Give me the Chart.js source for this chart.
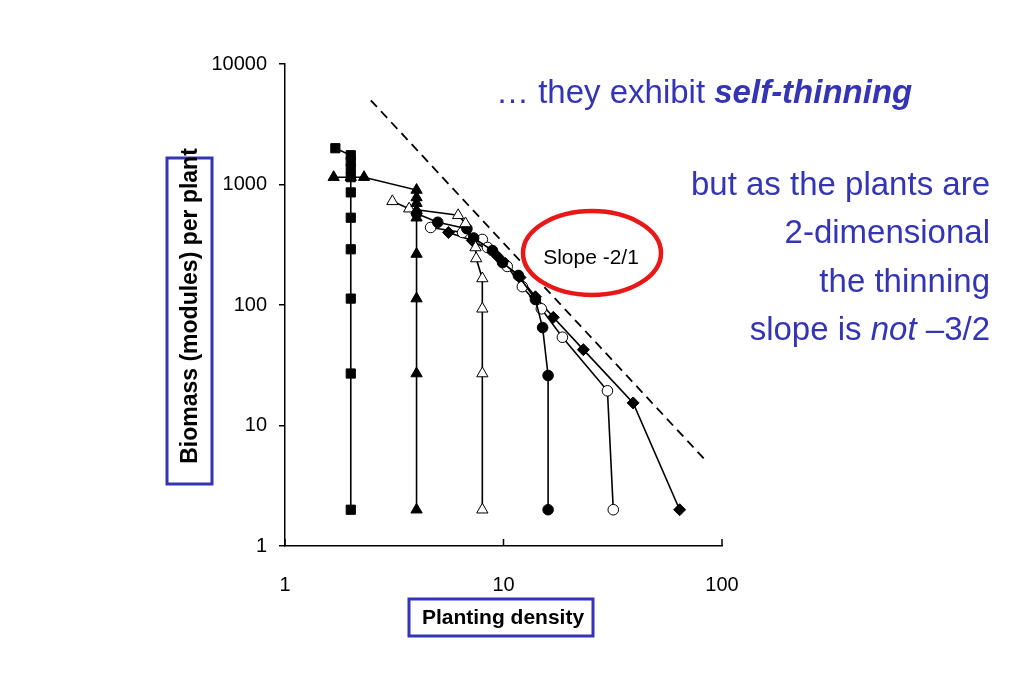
<!DOCTYPE html>
<html>
<head>
<meta charset="utf-8">
<script src="https://cdn.jsdelivr.net/npm/chart.js@4.4.1/dist/chart.umd.min.js"></script>
<style>
  html, body { margin: 0; padding: 0; background: #fff; }
</style>
</head>
<body>
<canvas id="myChart" width="1023" height="682"></canvas>
<script>
// tick labels
let xTicks = [1, 10, 100]
let yTicks = [1, 10, 100, 1000, 10000]

// filled squares
let sqX = [1.7, 2, 2, 2, 2, 2, 2, 2, 2, 2, 2]
let sqY = [2000, 1750, 1550, 1350, 1150, 860, 530, 290, 113, 27, 2]

// filled triangles
let triX = [1.67, 2, 2.3, 4, 4, 4, 4, 4, 4, 4, 4, 4]
let triY = [1150, 1150, 1150, 900, 780, 700, 610, 530, 265, 113, 27, 2]

// open triangles
let oTriX = [3.1, 3.7, 6.2, 6.7, 7.45, 7.5, 8, 8, 8, 8]
let oTriY = [725, 630, 555, 475, 300, 243, 166, 93, 27, 2]

// filled circles
let dotX = [4, 5, 6.8, 7.3, 8.9, 9.9, 11.7, 14, 15.1, 16, 16]
let dotY = [575, 486, 430, 360, 283, 225, 176, 111, 65, 26, 2]

// open circles
let oDotX = [4.64, 6.5, 8.0, 8.45, 10.4, 12.2, 14.9, 18.6, 29.9, 31.8]
let oDotY = [440, 400, 350, 300, 209, 142, 93, 54, 19.4, 2]

// filled diamonds
let diaX = [5.6, 7.2, 9.4, 10.2, 11.9, 14.0, 16.9, 23.2, 39.2, 64]
let diaY = [400, 343, 253, 221, 169, 117, 79, 42.6, 15.4, 2]

// slope -2 guide line
let guideX = [2.47, 82.7]
let guideY = [5000, 5.3]

let blue = '#3434b6'
let fam = '"Liberation Sans", Arial, sans-serif'

function pts(xs, ys) {
    return xs.map((x, i) => ({ x: x, y: ys[i] }))
}

function series(xs, ys, style, fill, r) {
    return {
        data: pts(xs, ys),
        showLine: true,
        borderColor: '#000',
        borderWidth: 1.6,
        pointStyle: style,
        pointRadius: r,
        pointBackgroundColor: fill,
        pointBorderColor: '#000',
        pointBorderWidth: 1,
        tension: 0
    }
}

let extras = {
    id: 'extras',
    afterDraw(chart) {
        let c = chart.ctx
        let xs = chart.scales.x
        let ys = chart.scales.y
        c.save()

        // small upward ticks on the x axis
        c.strokeStyle = '#000'
        c.lineWidth = 1.5
        xTicks.forEach(v => {
            let px = xs.getPixelForValue(v)
            c.beginPath()
            c.moveTo(px, ys.bottom)
            c.lineTo(px, ys.bottom - 7)
            c.stroke()
        })

        // axis title boxes
        c.strokeStyle = blue
        c.lineWidth = 3
        c.strokeRect(167, 158, 45, 326)
        c.strokeRect(409, 599, 184, 37)

        c.fillStyle = '#000'
        c.textAlign = 'center'
        c.textBaseline = 'middle'
        c.font = 'bold 21px ' + fam
        c.fillText('Planting density', 503, 618)

        c.save()
        c.translate(191, 306)
        c.rotate(-Math.PI / 2)
        c.font = 'bold 23px ' + fam
        c.fillText('Biomass (modules) per plant', 0, 0)
        c.restore()

        // red ellipse with label
        c.strokeStyle = '#e81818'
        c.lineWidth = 4.5
        c.beginPath()
        c.ellipse(592, 253, 69, 42, 0, 0, Math.PI * 2)
        c.stroke()
        c.fillStyle = '#000'
        c.font = '21px ' + fam
        c.fillText('Slope -2/1', 591, 258)

        // slide text
        c.fillStyle = blue
        c.textBaseline = 'alphabetic'
        c.textAlign = 'left'
        let f = '33px ' + fam
        c.font = f
        let t1 = '\u2026 they exhibit '
        c.fillText(t1, 496, 103)
        let w1 = c.measureText(t1).width
        c.font = 'italic bold 33px ' + fam
        c.fillText('self-thinning', 496 + w1, 103)

        c.textAlign = 'right'
        c.font = f
        c.fillText('but as the plants are', 990, 195)
        c.fillText('2-dimensional', 990, 243)
        c.fillText('the thinning', 990, 292)
        let tail = ' \u20133/2'
        let wt = c.measureText(tail).width
        c.fillText(tail, 990, 340)
        c.font = 'italic 33px ' + fam
        let wn = c.measureText('not').width
        c.fillText('not', 990 - wt, 340)
        c.font = f
        c.fillText('slope is ', 990 - wt - wn, 340)

        c.restore()
    }
}

let ctx = document.getElementById('myChart').getContext('2d')

let myChart = new Chart(ctx, {
    type: 'scatter',
    data: {
        datasets: [
            series(sqX, sqY, 'rect', '#000', 6.5),
            series(triX, triY, 'triangle', '#000', 6.5),
            series(oTriX, oTriY, 'triangle', '#fff', 6.5),
            series(dotX, dotY, 'circle', '#000', 5.3),
            series(oDotX, oDotY, 'circle', '#fff', 5.3),
            series(diaX, diaY, 'rectRot', '#000', 6),
            {
                data: pts(guideX, guideY),
                showLine: true,
                borderColor: '#000',
                borderWidth: 1.8,
                borderDash: [9, 6],
                pointRadius: 0
            }
        ]
    },
    options: {
        responsive: false,
        animation: false,
        layout: { padding: { top: 64, right: 301, bottom: 0, left: 0 } },
        plugins: {
            legend: { display: false },
            tooltip: { enabled: false }
        },
        scales: {
            x: {
                type: 'logarithmic',
                min: 1,
                max: 100,
                afterBuildTicks: s => { s.ticks = xTicks.map(v => ({ value: v })) },
                afterFit: s => { s.height = 136 },
                grid: { display: false },
                border: { display: true, color: '#000', width: 1.5 },
                ticks: {
                    color: '#000',
                    padding: 19,
                    maxRotation: 0,
                    font: { family: fam, size: 20 },
                    callback: v => String(v)
                }
            },
            y: {
                type: 'logarithmic',
                min: 1,
                max: 10000,
                afterBuildTicks: s => { s.ticks = yTicks.map(v => ({ value: v })) },
                afterFit: s => { s.width = 285 },
                grid: { drawOnChartArea: false, color: '#000', lineWidth: 1.5, tickLength: 6 },
                border: { display: true, color: '#000', width: 1.5 },
                ticks: {
                    color: '#000',
                    padding: 12,
                    font: { family: fam, size: 20 },
                    callback: v => String(v)
                }
            }
        }
    },
    plugins: [extras]
})
</script>
</body>
</html>
